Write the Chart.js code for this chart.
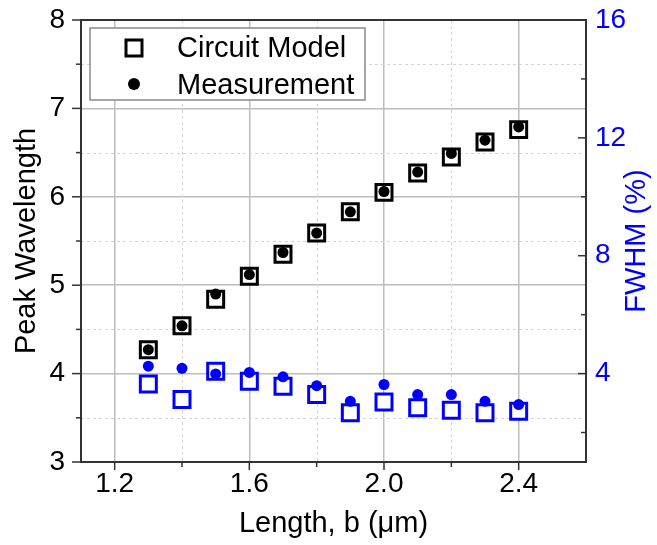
<!DOCTYPE html>
<html>
<head>
<meta charset="utf-8">
<script src="https://cdn.jsdelivr.net/npm/chart.js@4"></script>
<style>
html, body { margin: 0; padding: 0; background: #fff; }
#wrap { width: 657px; height: 545px; }
</style>
</head>
<body>
<div id="wrap"><canvas id="myChart"></canvas></div>
<script>
// data
let lengths = [1.3, 1.4, 1.5, 1.6, 1.7, 1.8, 1.9, 2.0, 2.1, 2.2, 2.3, 2.4];
let modelPeak = [4.27, 4.54, 4.84, 5.10, 5.35, 5.59, 5.83, 6.05, 6.27, 6.45, 6.62, 6.76];
let measPeak = [4.27, 4.54, 4.90, 5.12, 5.37, 5.59, 5.83, 6.06, 6.28, 6.49, 6.64, 6.79];
let modelFwhm = [3.65, 3.12, 4.08, 3.74, 3.57, 3.29, 2.67, 3.04, 2.84, 2.76, 2.67, 2.72];
let measFwhm = [4.25, 4.18, 3.99, 4.04, 3.89, 3.59, 3.06, 3.63, 3.29, 3.29, 3.06, 2.95];

let xTicks = [1.2, 1.4, 1.6, 1.8, 2.0, 2.2, 2.4];
let xLabels = [1.2, 1.6, 2.0, 2.4];
let peakTicks = [3, 3.5, 4, 4.5, 5, 5.5, 6, 6.5, 7, 7.5, 8];
let peakLabels = [3, 4, 5, 6, 7, 8];
let fwhmTicks = [2, 4, 6, 8, 10, 12, 14, 16];
let fwhmLabels = [4, 8, 12, 16];
let legendLabels = ['Circuit Model', 'Measurement'];

let FONT = "'Liberation Sans', Arial, sans-serif";
let blue = '#0000ff';

function pts(ys) {
    return lengths.map((x, i) => ({ x: x, y: ys[i] }));
}
function has(list, v) {
    return list.some(t => Math.abs(t - v) < 1e-6);
}

// fixed axis sizes so the plot frame sits where the reference has it
function fixWidth(w) {
    return s => { s.width = w; s.paddingTop = 0; s.paddingBottom = 0; };
}
function fixHeight(h) {
    return s => { s.height = h; s.paddingLeft = 0; s.paddingRight = 0; };
}

let framePlugin = {
    id: 'frame',
    beforeDatasetsDraw(chart) {
        let ctx = chart.ctx, a = chart.chartArea;
        let xs = chart.scales.x, ys = chart.scales.y;
        ctx.save();
        ctx.strokeStyle = '#d4d4d4';
        ctx.lineWidth = 1;
        ctx.setLineDash([3, 3]);
        xTicks.filter(v => !has(xLabels, v)).forEach(v => {
            let px = Math.round(xs.getPixelForValue(v)) + 0.5;
            ctx.beginPath(); ctx.moveTo(px, a.top); ctx.lineTo(px, a.bottom); ctx.stroke();
        });
        peakTicks.filter(v => !has(peakLabels, v)).forEach(v => {
            let py = Math.round(ys.getPixelForValue(v)) + 0.5;
            ctx.beginPath(); ctx.moveTo(a.left, py); ctx.lineTo(a.right, py); ctx.stroke();
        });
        ctx.restore();
    },
    afterDatasetsDraw(chart) {
        let ctx = chart.ctx, a = chart.chartArea;
        let xs = chart.scales.x, ys = chart.scales.y, y2 = chart.scales.y2;
        ctx.save();
        ctx.strokeStyle = '#333';
        ctx.lineWidth = 2;
        ctx.strokeRect(a.left, a.top, a.right - a.left, a.bottom - a.top);

        ctx.lineWidth = 1.5;
        xTicks.forEach(v => {
            let px = xs.getPixelForValue(v), len = has(xLabels, v) ? 8 : 5;
            ctx.beginPath(); ctx.moveTo(px, a.bottom); ctx.lineTo(px, a.bottom + len); ctx.stroke();
        });
        peakTicks.forEach(v => {
            let py = ys.getPixelForValue(v), len = has(peakLabels, v) ? 9 : 5;
            ctx.beginPath(); ctx.moveTo(a.left, py); ctx.lineTo(a.left - len, py); ctx.stroke();
        });
        fwhmTicks.forEach(v => {
            let py = y2.getPixelForValue(v), len = has(fwhmLabels, v) ? 8 : 5;
            ctx.beginPath(); ctx.moveTo(a.right, py); ctx.lineTo(a.right - len, py); ctx.stroke();
        });

        // right axis title, reading bottom to top
        ctx.fillStyle = blue;
        ctx.font = '29px ' + FONT;
        ctx.textAlign = 'center';
        ctx.textBaseline = 'middle';
        ctx.translate(637, (a.top + a.bottom) / 2);
        ctx.rotate(-Math.PI / 2);
        ctx.fillText('FWHM (%)', 0, 0);
        ctx.restore();

        // legend box
        ctx.save();
        let lx = a.left + 9, ly = a.top + 8;
        ctx.fillStyle = '#fff';
        ctx.fillRect(lx, ly, 275, 72);
        ctx.strokeStyle = '#8a8a8a';
        ctx.lineWidth = 1.5;
        ctx.strokeRect(lx, ly, 275, 72);

        ctx.strokeStyle = '#000';
        ctx.lineWidth = 3;
        ctx.strokeRect(lx + 36, ly + 12, 16, 16);
        ctx.fillStyle = '#000';
        ctx.beginPath();
        ctx.arc(lx + 44, ly + 56, 6, 0, Math.PI * 2);
        ctx.fill();

        ctx.font = '29px ' + FONT;
        ctx.textAlign = 'left';
        ctx.textBaseline = 'alphabetic';
        ctx.fillText(legendLabels[0], lx + 87, ly + 29);
        ctx.fillText(legendLabels[1], lx + 87, ly + 66);
        ctx.restore();
    }
};

let ctx = document.getElementById('myChart').getContext('2d');
let chart = new Chart(ctx, {
    type: 'scatter',
    data: {
        datasets: [
            {
                label: legendLabels[1],
                data: pts(measPeak),
                yAxisID: 'y',
                pointStyle: 'circle',
                pointRadius: 5.5,
                backgroundColor: '#000',
                borderWidth: 0,
                order: 0
            },
            {
                label: legendLabels[1] + ' FWHM',
                data: pts(measFwhm),
                yAxisID: 'y2',
                pointStyle: 'circle',
                pointRadius: 5.5,
                backgroundColor: blue,
                borderWidth: 0,
                order: 1
            },
            {
                label: legendLabels[0],
                data: pts(modelPeak),
                yAxisID: 'y',
                pointStyle: 'rect',
                pointRadius: 11.3,
                backgroundColor: '#fff',
                borderColor: '#000',
                borderWidth: 3,
                order: 2
            },
            {
                label: legendLabels[0] + ' FWHM',
                data: pts(modelFwhm),
                yAxisID: 'y2',
                pointStyle: 'rect',
                pointRadius: 11.3,
                backgroundColor: '#fff',
                borderColor: blue,
                borderWidth: 3,
                order: 3
            }
        ]
    },
    options: {
        responsive: true,
        maintainAspectRatio: false,
        animation: false,
        devicePixelRatio: 1,
        layout: { padding: { top: 20, left: 0, right: 0, bottom: 0 } },
        plugins: {
            legend: { display: false },
            tooltip: { enabled: false }
        },
        scales: {
            x: {
                type: 'linear',
                min: 1.1,
                max: 2.6,
                afterBuildTicks: s => { s.ticks = xTicks.map(v => ({ value: v })); },
                afterFit: fixHeight(83),
                border: { display: false },
                grid: {
                    drawTicks: false,
                    color: c => has(xLabels, c.tick.value) ? '#bdbdbd' : 'transparent',
                    lineWidth: 1.5
                },
                ticks: {
                    padding: 5,
                    color: '#000',
                    font: { size: 28, family: FONT },
                    maxRotation: 0,
                    autoSkip: false,
                    callback: v => has(xLabels, v) ? v.toFixed(1) : ''
                },
                title: {
                    display: true,
                    text: 'Length, b (\u03bcm)',
                    color: '#000',
                    font: { size: 29, family: FONT },
                    padding: { top: 0, bottom: 4 }
                }
            },
            y: {
                type: 'linear',
                position: 'left',
                min: 3,
                max: 8,
                afterBuildTicks: s => { s.ticks = peakTicks.map(v => ({ value: v })); },
                afterFit: fixWidth(81),
                border: { display: false },
                grid: {
                    drawTicks: false,
                    color: c => (has(peakLabels, c.tick.value) && c.tick.value > 3 && c.tick.value < 8) ? '#bdbdbd' : 'transparent',
                    lineWidth: 1.5
                },
                ticks: {
                    padding: 16,
                    color: '#000',
                    font: { size: 28, family: FONT },
                    autoSkip: false,
                    callback: v => has(peakLabels, v) ? String(v) : ''
                },
                title: {
                    display: true,
                    text: 'Peak Wavelength',
                    color: '#000',
                    font: { size: 29, family: FONT },
                    padding: { top: 10, bottom: 0 }
                }
            },
            y2: {
                type: 'linear',
                position: 'right',
                min: 1,
                max: 16,
                afterBuildTicks: s => { s.ticks = fwhmTicks.map(v => ({ value: v })); },
                afterFit: fixWidth(71),
                border: { display: false },
                grid: { display: false, drawTicks: false },
                ticks: {
                    padding: 9,
                    color: blue,
                    font: { size: 28, family: FONT },
                    autoSkip: false,
                    callback: v => has(fwhmLabels, v) ? String(v) : ''
                },
                title: { display: false }
            }
        }
    },
    plugins: [framePlugin]
});
</script>
</body>
</html>
